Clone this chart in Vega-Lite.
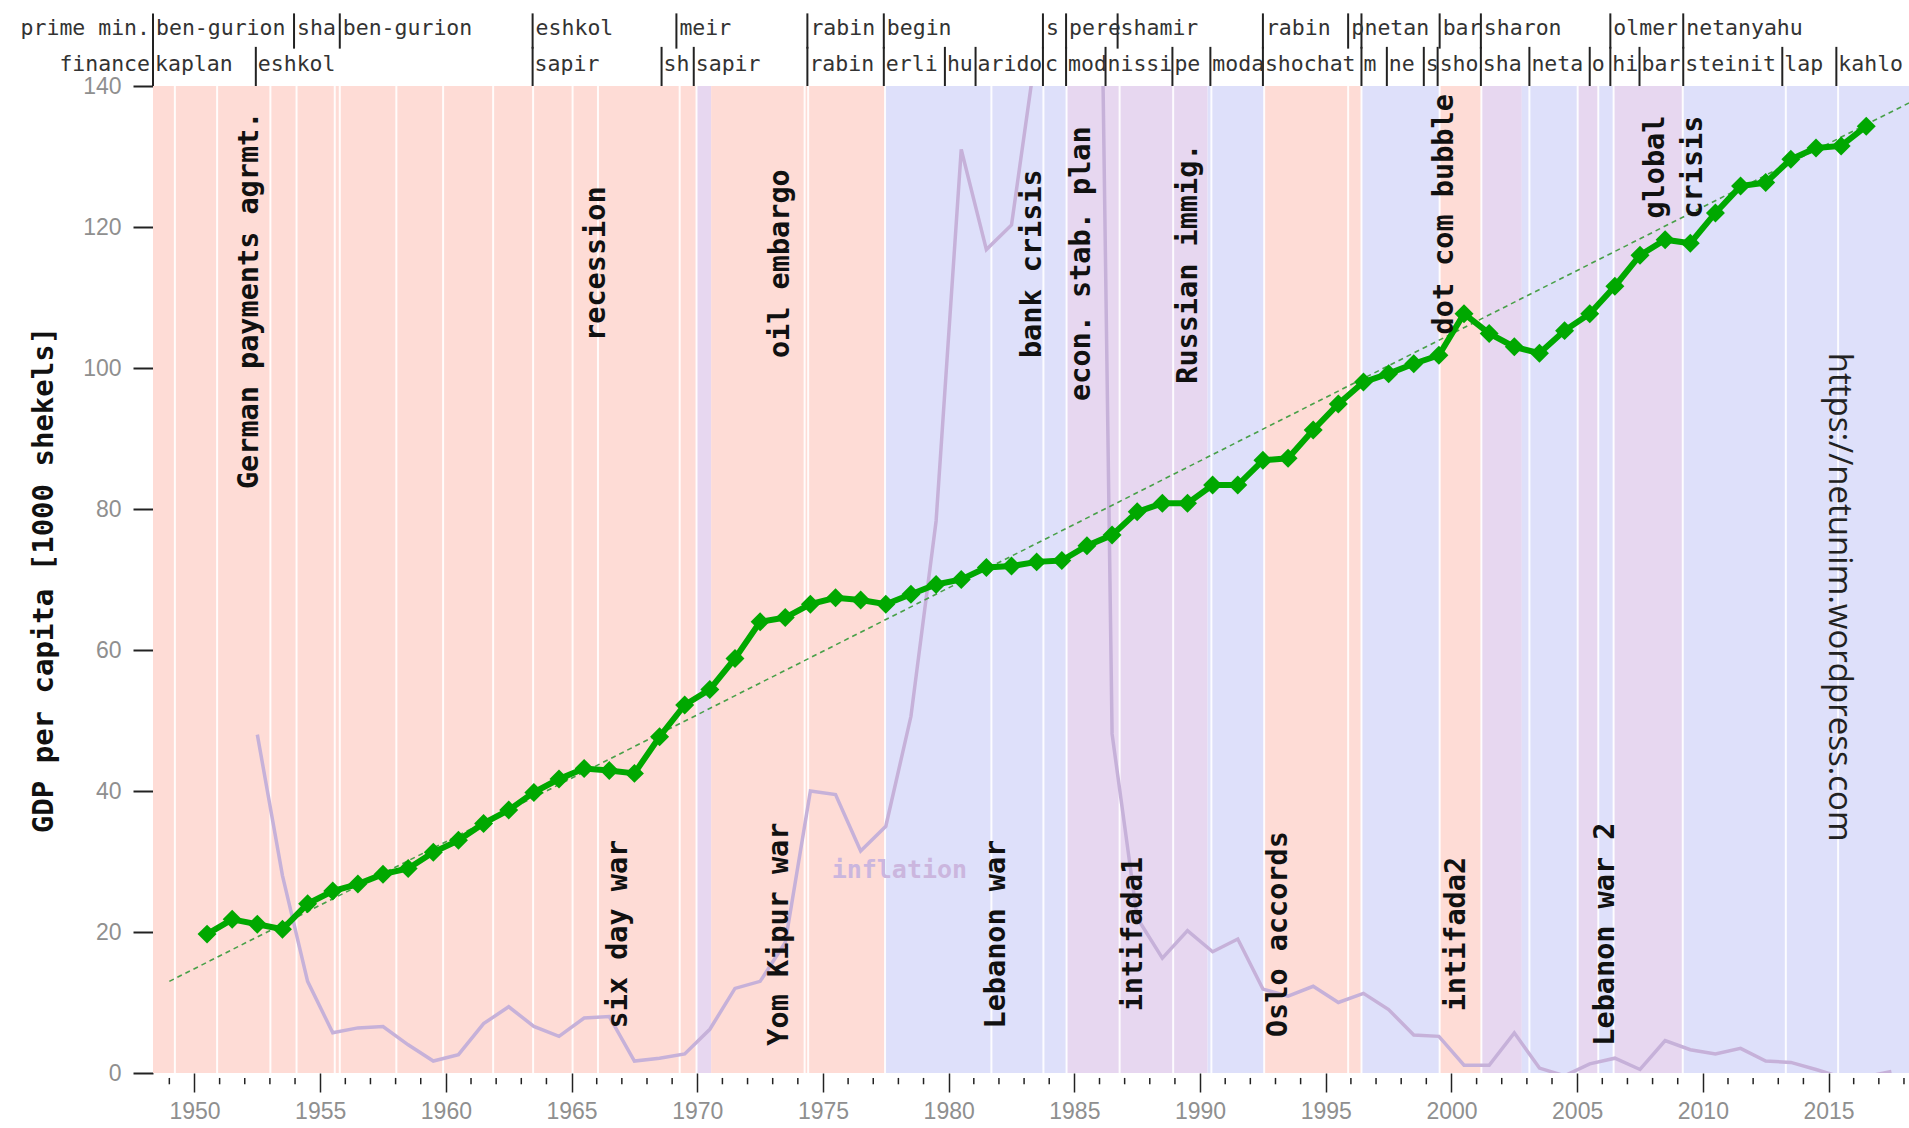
{
  "$schema": "https://vega.github.io/schema/vega-lite/v6.json",
  "width": 1756,
  "height": 987,
  "autosize": {"type": "none"},
  "padding": {"left": 153, "top": 86, "right": 0, "bottom": 55},
  "background": "white",
  "config": {"view": {"stroke": null}, "axis": {"grid": false, "domain": false}},
  "datasets": {
    "gdp": [
      {"t": 1950.5, "gdp": 19.7}, {"t": 1951.5, "gdp": 21.8}, {"t": 1952.5, "gdp": 21.1}, {"t": 1953.5, "gdp": 20.4},
      {"t": 1954.5, "gdp": 24.0}, {"t": 1955.5, "gdp": 25.8}, {"t": 1956.5, "gdp": 26.8}, {"t": 1957.5, "gdp": 28.2},
      {"t": 1958.5, "gdp": 29.0}, {"t": 1959.5, "gdp": 31.3}, {"t": 1960.5, "gdp": 33.0}, {"t": 1961.5, "gdp": 35.4},
      {"t": 1962.5, "gdp": 37.3}, {"t": 1963.5, "gdp": 39.8}, {"t": 1964.5, "gdp": 41.7}, {"t": 1965.5, "gdp": 43.2},
      {"t": 1966.5, "gdp": 42.9}, {"t": 1967.5, "gdp": 42.5}, {"t": 1968.5, "gdp": 47.7}, {"t": 1969.5, "gdp": 52.2},
      {"t": 1970.5, "gdp": 54.4}, {"t": 1971.5, "gdp": 58.8}, {"t": 1972.5, "gdp": 64.0}, {"t": 1973.5, "gdp": 64.6},
      {"t": 1974.5, "gdp": 66.5}, {"t": 1975.5, "gdp": 67.4}, {"t": 1976.5, "gdp": 67.1}, {"t": 1977.5, "gdp": 66.5},
      {"t": 1978.5, "gdp": 67.9}, {"t": 1979.5, "gdp": 69.3}, {"t": 1980.5, "gdp": 70.0}, {"t": 1981.5, "gdp": 71.7},
      {"t": 1982.5, "gdp": 71.9}, {"t": 1983.5, "gdp": 72.5}, {"t": 1984.5, "gdp": 72.7}, {"t": 1985.5, "gdp": 74.8},
      {"t": 1986.5, "gdp": 76.3}, {"t": 1987.5, "gdp": 79.6}, {"t": 1988.5, "gdp": 80.8}, {"t": 1989.5, "gdp": 80.8},
      {"t": 1990.5, "gdp": 83.4}, {"t": 1991.5, "gdp": 83.4}, {"t": 1992.5, "gdp": 86.9}, {"t": 1993.5, "gdp": 87.2},
      {"t": 1994.5, "gdp": 91.2}, {"t": 1995.5, "gdp": 94.9}, {"t": 1996.5, "gdp": 98.0}, {"t": 1997.5, "gdp": 99.2},
      {"t": 1998.5, "gdp": 100.6}, {"t": 1999.5, "gdp": 101.8}, {"t": 2000.5, "gdp": 107.7}, {"t": 2001.5, "gdp": 104.9},
      {"t": 2002.5, "gdp": 103.0}, {"t": 2003.5, "gdp": 102.1}, {"t": 2004.5, "gdp": 105.3}, {"t": 2005.5, "gdp": 107.7},
      {"t": 2006.5, "gdp": 111.6}, {"t": 2007.5, "gdp": 116.0}, {"t": 2008.5, "gdp": 118.2}, {"t": 2009.5, "gdp": 117.7},
      {"t": 2010.5, "gdp": 122.0}, {"t": 2011.5, "gdp": 125.8}, {"t": 2012.5, "gdp": 126.3}, {"t": 2013.5, "gdp": 129.6},
      {"t": 2014.5, "gdp": 131.2}, {"t": 2015.5, "gdp": 131.5}, {"t": 2016.5, "gdp": 134.3}
    ],
    "inflation": [
      {"t": 1952.5, "inf": 48}, {"t": 1953.5, "inf": 28}, {"t": 1954.5, "inf": 13}, {"t": 1955.5, "inf": 5.7},
      {"t": 1956.5, "inf": 6.4}, {"t": 1957.5, "inf": 6.6}, {"t": 1958.5, "inf": 4.0}, {"t": 1959.5, "inf": 1.7},
      {"t": 1960.5, "inf": 2.6}, {"t": 1961.5, "inf": 7.0}, {"t": 1962.5, "inf": 9.4}, {"t": 1963.5, "inf": 6.6},
      {"t": 1964.5, "inf": 5.2}, {"t": 1965.5, "inf": 7.8}, {"t": 1966.5, "inf": 8.0}, {"t": 1967.5, "inf": 1.7},
      {"t": 1968.5, "inf": 2.1}, {"t": 1969.5, "inf": 2.7}, {"t": 1970.5, "inf": 6.2}, {"t": 1971.5, "inf": 12.0},
      {"t": 1972.5, "inf": 13.0}, {"t": 1973.5, "inf": 18.5}, {"t": 1974.5, "inf": 40.0}, {"t": 1975.5, "inf": 39.5},
      {"t": 1976.5, "inf": 31.5}, {"t": 1977.5, "inf": 35.0}, {"t": 1978.5, "inf": 50.6}, {"t": 1979.5, "inf": 78.3},
      {"t": 1980.5, "inf": 131.0}, {"t": 1981.5, "inf": 116.8}, {"t": 1982.5, "inf": 120.3}, {"t": 1983.5, "inf": 145.6},
      {"t": 1984.5, "inf": 373.8}, {"t": 1985.5, "inf": 304.6}, {"t": 1986.5, "inf": 48.1}, {"t": 1987.5, "inf": 22.0},
      {"t": 1988.5, "inf": 16.3}, {"t": 1989.5, "inf": 20.2}, {"t": 1990.5, "inf": 17.2}, {"t": 1991.5, "inf": 19.0},
      {"t": 1992.5, "inf": 11.9}, {"t": 1993.5, "inf": 10.9}, {"t": 1994.5, "inf": 12.3}, {"t": 1995.5, "inf": 10.0},
      {"t": 1996.5, "inf": 11.3}, {"t": 1997.5, "inf": 9.0}, {"t": 1998.5, "inf": 5.4}, {"t": 1999.5, "inf": 5.2},
      {"t": 2000.5, "inf": 1.1}, {"t": 2001.5, "inf": 1.1}, {"t": 2002.5, "inf": 5.7}, {"t": 2003.5, "inf": 0.7},
      {"t": 2004.5, "inf": -0.4}, {"t": 2005.5, "inf": 1.3}, {"t": 2006.5, "inf": 2.1}, {"t": 2007.5, "inf": 0.5},
      {"t": 2008.5, "inf": 4.6}, {"t": 2009.5, "inf": 3.3}, {"t": 2010.5, "inf": 2.7}, {"t": 2011.5, "inf": 3.5},
      {"t": 2012.5, "inf": 1.7}, {"t": 2013.5, "inf": 1.5}, {"t": 2014.5, "inf": 0.5}, {"t": 2015.5, "inf": -0.6},
      {"t": 2016.5, "inf": -0.5}, {"t": 2017.5, "inf": 0.2}
    ],
    "trend": [{"t": 1949.0, "v": 13.0}, {"t": 2018.2, "v": 137.6}],
    "govts": [
      {"start": 1948.35, "end": 1969.97, "type": "labor"},
      {"start": 1969.97, "end": 1970.55, "type": "unity"},
      {"start": 1970.55, "end": 1977.47, "type": "labor"},
      {"start": 1977.47, "end": 1984.69, "type": "likud"},
      {"start": 1984.69, "end": 1990.3, "type": "unity"},
      {"start": 1990.3, "end": 1992.55, "type": "likud"},
      {"start": 1992.55, "end": 1996.42, "type": "labor"},
      {"start": 1996.42, "end": 1999.53, "type": "likud"},
      {"start": 1999.53, "end": 2001.19, "type": "labor"},
      {"start": 2001.19, "end": 2002.8, "type": "unity"},
      {"start": 2002.8, "end": 2005.02, "type": "likud"},
      {"start": 2005.02, "end": 2005.84, "type": "unity"},
      {"start": 2005.84, "end": 2006.45, "type": "likud"},
      {"start": 2006.45, "end": 2009.2, "type": "unity"},
      {"start": 2009.2, "end": 2018.2, "type": "likud"}
    ],
    "bounds": [
      {"t": 1949.22}, {"t": 1950.9}, {"t": 1953.02}, {"t": 1954.06}, {"t": 1955.58}, {"t": 1955.78}, {"t": 1958.03},
      {"t": 1959.89}, {"t": 1961.88}, {"t": 1963.47}, {"t": 1965.04}, {"t": 1966.05}, {"t": 1969.3}, {"t": 1969.97},
      {"t": 1974.27}, {"t": 1974.41}, {"t": 1977.47}, {"t": 1981.7}, {"t": 1983.77}, {"t": 1984.69}, {"t": 1986.8},
      {"t": 1988.93}, {"t": 1990.45}, {"t": 1992.55}, {"t": 1995.89}, {"t": 1996.42}, {"t": 1999.53}, {"t": 2001.19},
      {"t": 2003.1}, {"t": 2005.02}, {"t": 2005.84}, {"t": 2006.45}, {"t": 2009.2}, {"t": 2013.3}, {"t": 2015.38}
    ],
    "pm": [
      {"t": 1948.35, "name": "ben-gurion"}, {"t": 1953.96, "name": "sha"}, {"t": 1955.78, "name": "ben-gurion"},
      {"t": 1963.45, "name": "eshkol"}, {"t": 1969.17, "name": "meir"}, {"t": 1974.38, "name": "rabin"},
      {"t": 1977.42, "name": "begin"}, {"t": 1983.75, "name": "s"}, {"t": 1984.67, "name": "pere"},
      {"t": 1986.72, "name": "shamir"}, {"t": 1992.5, "name": "rabin"}, {"t": 1995.89, "name": "p"},
      {"t": 1996.42, "name": "netan"}, {"t": 1999.53, "name": "bar"}, {"t": 2001.17, "name": "sharon"},
      {"t": 2006.32, "name": "olmer"}, {"t": 2009.22, "name": "netanyahu"}
    ],
    "fin": [
      {"t": 1948.35, "name": "kaplan"}, {"t": 1952.44, "name": "eshkol"}, {"t": 1963.45, "name": "sapir"},
      {"t": 1968.58, "name": "sh"}, {"t": 1969.86, "name": "sapir"}, {"t": 1974.38, "name": "rabin"},
      {"t": 1977.42, "name": "erli"}, {"t": 1979.85, "name": "hu"}, {"t": 1981.07, "name": "arido"},
      {"t": 1983.75, "name": "c"}, {"t": 1984.67, "name": "mod"}, {"t": 1986.24, "name": "nissi"},
      {"t": 1988.9, "name": "pe"}, {"t": 1990.41, "name": "moda"}, {"t": 1992.5, "name": "shochat"},
      {"t": 1996.42, "name": "m"}, {"t": 1997.43, "name": "ne"}, {"t": 1998.9, "name": "s"},
      {"t": 1999.45, "name": "sho"}, {"t": 2001.17, "name": "sha"}, {"t": 2003.1, "name": "neta"},
      {"t": 2005.5, "name": "o"}, {"t": 2006.32, "name": "hi"}, {"t": 2007.48, "name": "bar"},
      {"t": 2009.22, "name": "steinit"}, {"t": 2013.16, "name": "lap"}, {"t": 2015.31, "name": "kahlo"}
    ],
    "minor": [
      {"yr": 1949}, {"yr": 1951}, {"yr": 1952}, {"yr": 1953}, {"yr": 1954}, {"yr": 1956}, {"yr": 1957}, {"yr": 1958},
      {"yr": 1959}, {"yr": 1961}, {"yr": 1962}, {"yr": 1963}, {"yr": 1964}, {"yr": 1966}, {"yr": 1967}, {"yr": 1968},
      {"yr": 1969}, {"yr": 1971}, {"yr": 1972}, {"yr": 1973}, {"yr": 1974}, {"yr": 1976}, {"yr": 1977}, {"yr": 1978},
      {"yr": 1979}, {"yr": 1981}, {"yr": 1982}, {"yr": 1983}, {"yr": 1984}, {"yr": 1986}, {"yr": 1987}, {"yr": 1988},
      {"yr": 1989}, {"yr": 1991}, {"yr": 1992}, {"yr": 1993}, {"yr": 1994}, {"yr": 1996}, {"yr": 1997}, {"yr": 1998},
      {"yr": 1999}, {"yr": 2001}, {"yr": 2002}, {"yr": 2003}, {"yr": 2004}, {"yr": 2006}, {"yr": 2007}, {"yr": 2008},
      {"yr": 2009}, {"yr": 2011}, {"yr": 2012}, {"yr": 2013}, {"yr": 2014}, {"yr": 2016}, {"yr": 2017}, {"yr": 2018}
    ]
  },
  "layer": [
    {
      "data": {"name": "govts"},
      "mark": {"type": "rect"},
      "encoding": {
        "x": {"field": "start", "type": "quantitative", "scale": {"domain": [1948.35, 2018.2], "nice": false, "zero": false}},
        "x2": {"field": "end"},
        "y": {"datum": 0, "type": "quantitative", "scale": {"domain": [0, 140], "nice": false, "zero": false}},
        "y2": {"datum": 140},
        "color": {"field": "type", "type": "nominal", "scale": {"domain": ["labor", "unity", "likud"], "range": ["#fedcd6", "#e7d7f0", "#dee0fa"]}, "legend": null}
      }
    },
    {
      "data": {"name": "bounds"},
      "mark": {"type": "rule", "color": "#ffffff", "strokeWidth": 2, "opacity": 0.9},
      "encoding": {
        "x": {"field": "t", "type": "quantitative", "scale": {"domain": [1948.35, 2018.2], "nice": false, "zero": false}},
        "y": {"datum": 0, "type": "quantitative", "scale": {"domain": [0, 140], "nice": false, "zero": false}},
        "y2": {"datum": 140}
      }
    },
    {
      "data": {"name": "inflation"},
      "mark": {"type": "line", "clip": true, "color": "#c6b1d9", "strokeWidth": 3.5},
      "encoding": {
        "x": {"field": "t", "type": "quantitative", "scale": {"domain": [1948.35, 2018.2], "nice": false, "zero": false}},
        "y": {"field": "inf", "type": "quantitative", "scale": {"domain": [0, 140], "nice": false, "zero": false}}
      }
    },
    {
      "data": {"name": "trend"},
      "mark": {"type": "line", "clip": true, "color": "#48a048", "strokeWidth": 1.6, "strokeDash": [5, 4]},
      "encoding": {
        "x": {"field": "t", "type": "quantitative", "scale": {"domain": [1948.35, 2018.2], "nice": false, "zero": false}},
        "y": {"field": "v", "type": "quantitative", "scale": {"domain": [0, 140], "nice": false, "zero": false}}
      }
    },
    {
      "data": {"name": "gdp"},
      "mark": {"type": "line", "color": "#00a800", "strokeWidth": 6, "point": {"shape": "diamond", "size": 360, "filled": true, "color": "#00a800", "opacity": 1}},
      "encoding": {
        "x": {"field": "t", "type": "quantitative", "scale": {"domain": [1948.35, 2018.2], "nice": false, "zero": false},
          "axis": {"values": [1950, 1955, 1960, 1965, 1970, 1975, 1980, 1985, 1990, 1995, 2000, 2005, 2010, 2015], "format": "d", "title": null,
            "tickSize": 19, "tickColor": "#222222", "tickWidth": 1.5, "labelColor": "#8f8f8f", "labelFont": "Liberation Sans Narrow, Liberation Sans, sans-serif", "labelFontSize": 23, "labelPadding": 8}},
        "y": {"field": "gdp", "type": "quantitative", "scale": {"domain": [0, 140], "nice": false, "zero": false},
          "axis": {"values": [0, 20, 40, 60, 80, 100, 120, 140], "title": "GDP per capita [1000 shekels]",
            "tickSize": 20, "tickColor": "#222222", "tickWidth": 2, "labelColor": "#8f8f8f", "labelFont": "Liberation Sans", "labelFontSize": 23, "labelPadding": 12,
            "titleFont": "DejaVu Sans Mono", "titleFontWeight": "bold", "titleFontSize": 29, "titleColor": "#111111", "titlePadding": 24}}
      }
    },
    {
      "data": {"values": [
        {"label": "recession", "t": 1965.99}, {"label": "oil embargo", "t": 1973.3}, {"label": "bank crisis", "t": 1983.3},
        {"label": "econ. stab. plan", "t": 1985.26}, {"label": "Russian immig.", "t": 1989.52}
      ]},
      "mark": {"type": "text", "angle": 270, "font": "DejaVu Sans Mono", "fontWeight": "bold", "fontSize": 28.5, "color": "#111111", "align": "center", "baseline": "middle"},
      "encoding": {
        "x": {"field": "t", "type": "quantitative", "scale": {"domain": [1948.35, 2018.2], "nice": false, "zero": false}},
        "y": {"datum": 114.8, "type": "quantitative", "scale": {"domain": [0, 140], "nice": false, "zero": false}},
        "text": {"field": "label"}
      }
    },
    {
      "data": {"values": [{"label": "German payments agrmt.", "t": 1952.18}]},
      "mark": {"type": "text", "angle": 270, "font": "DejaVu Sans Mono", "fontWeight": "bold", "fontSize": 28.5, "color": "#111111", "align": "center", "baseline": "middle"},
      "encoding": {
        "x": {"field": "t", "type": "quantitative", "scale": {"domain": [1948.35, 2018.2], "nice": false, "zero": false}},
        "y": {"datum": 109.6, "type": "quantitative", "scale": {"domain": [0, 140], "nice": false, "zero": false}},
        "text": {"field": "label"}
      }
    },
    {
      "data": {"values": [{"label": "dot com bubble", "t": 1999.72}]},
      "mark": {"type": "text", "angle": 270, "font": "DejaVu Sans Mono", "fontWeight": "bold", "fontSize": 28.5, "color": "#111111", "align": "center", "baseline": "middle"},
      "encoding": {
        "x": {"field": "t", "type": "quantitative", "scale": {"domain": [1948.35, 2018.2], "nice": false, "zero": false}},
        "y": {"datum": 121.8, "type": "quantitative", "scale": {"domain": [0, 140], "nice": false, "zero": false}},
        "text": {"field": "label"}
      }
    },
    {
      "data": {"values": [{"label": "global\ncrisis", "t": 2008.1}]},
      "mark": {"type": "text", "angle": 270, "font": "DejaVu Sans Mono", "fontWeight": "bold", "fontSize": 28.5, "color": "#111111", "align": "center", "baseline": "middle", "lineBreak": "\n", "lineHeight": 38},
      "encoding": {
        "x": {"field": "t", "type": "quantitative", "scale": {"domain": [1948.35, 2018.2], "nice": false, "zero": false}},
        "y": {"datum": 128.5, "type": "quantitative", "scale": {"domain": [0, 140], "nice": false, "zero": false}},
        "text": {"field": "label"}
      }
    },
    {
      "data": {"values": [
        {"label": "six day war", "t": 1966.86}, {"label": "Yom Kipur war", "t": 1973.25}, {"label": "Lebanon war", "t": 1981.87},
        {"label": "intifada1", "t": 1987.34}, {"label": "Oslo accords", "t": 1993.1}, {"label": "intifada2", "t": 2000.17},
        {"label": "Lebanon war 2", "t": 2006.09}
      ]},
      "mark": {"type": "text", "angle": 270, "font": "DejaVu Sans Mono", "fontWeight": "bold", "fontSize": 28.5, "color": "#111111", "align": "center", "baseline": "middle"},
      "encoding": {
        "x": {"field": "t", "type": "quantitative", "scale": {"domain": [1948.35, 2018.2], "nice": false, "zero": false}},
        "y": {"datum": 19.7, "type": "quantitative", "scale": {"domain": [0, 140], "nice": false, "zero": false}},
        "text": {"field": "label"}
      }
    },
    {
      "data": {"values": [{"label": "inflation", "t": 1978.04}]},
      "mark": {"type": "text", "font": "DejaVu Sans Mono", "fontWeight": "bold", "fontSize": 25, "color": "#cbb6de", "align": "center", "baseline": "middle"},
      "encoding": {
        "x": {"field": "t", "type": "quantitative", "scale": {"domain": [1948.35, 2018.2], "nice": false, "zero": false}},
        "y": {"datum": 28.8, "type": "quantitative", "scale": {"domain": [0, 140], "nice": false, "zero": false}},
        "text": {"field": "label"}
      }
    },
    {
      "data": {"name": "pm"},
      "mark": {"type": "rule", "color": "#222222", "strokeWidth": 2},
      "encoding": {
        "x": {"field": "t", "type": "quantitative", "scale": {"domain": [1948.35, 2018.2], "nice": false, "zero": false}},
        "y": {"datum": 150.3, "type": "quantitative", "scale": {"domain": [0, 140], "nice": false, "zero": false}},
        "y2": {"datum": 145.3}
      }
    },
    {
      "data": {"name": "fin"},
      "mark": {"type": "rule", "color": "#222222", "strokeWidth": 2},
      "encoding": {
        "x": {"field": "t", "type": "quantitative", "scale": {"domain": [1948.35, 2018.2], "nice": false, "zero": false}},
        "y": {"datum": 145.55, "type": "quantitative", "scale": {"domain": [0, 140], "nice": false, "zero": false}},
        "y2": {"datum": 140}
      }
    },
    {
      "data": {"name": "pm"},
      "mark": {"type": "text", "font": "DejaVu Sans Mono", "fontSize": 21.5, "color": "#333333", "align": "left", "baseline": "middle", "dx": 3},
      "encoding": {
        "x": {"field": "t", "type": "quantitative", "scale": {"domain": [1948.35, 2018.2], "nice": false, "zero": false}},
        "y": {"datum": 148.15, "type": "quantitative", "scale": {"domain": [0, 140], "nice": false, "zero": false}},
        "text": {"field": "name"}
      }
    },
    {
      "data": {"name": "fin"},
      "mark": {"type": "text", "font": "DejaVu Sans Mono", "fontSize": 21.5, "color": "#333333", "align": "left", "baseline": "middle", "dx": 2},
      "encoding": {
        "x": {"field": "t", "type": "quantitative", "scale": {"domain": [1948.35, 2018.2], "nice": false, "zero": false}},
        "y": {"datum": 142.94, "type": "quantitative", "scale": {"domain": [0, 140], "nice": false, "zero": false}},
        "text": {"field": "name"}
      }
    },
    {
      "data": {"values": [{"label": "prime min."}]},
      "mark": {"type": "text", "font": "DejaVu Sans Mono", "fontSize": 21.5, "color": "#333333", "align": "right", "baseline": "middle", "dx": -3},
      "encoding": {
        "x": {"datum": 1948.35, "type": "quantitative", "scale": {"domain": [1948.35, 2018.2], "nice": false, "zero": false}},
        "y": {"datum": 148.15, "type": "quantitative", "scale": {"domain": [0, 140], "nice": false, "zero": false}},
        "text": {"field": "label"}
      }
    },
    {
      "data": {"values": [{"label": "finance"}]},
      "mark": {"type": "text", "font": "DejaVu Sans Mono", "fontSize": 21.5, "color": "#333333", "align": "right", "baseline": "middle", "dx": -3},
      "encoding": {
        "x": {"datum": 1948.35, "type": "quantitative", "scale": {"domain": [1948.35, 2018.2], "nice": false, "zero": false}},
        "y": {"datum": 142.94, "type": "quantitative", "scale": {"domain": [0, 140], "nice": false, "zero": false}},
        "text": {"field": "label"}
      }
    },
    {
      "data": {"name": "minor"},
      "mark": {"type": "rule", "color": "#222222", "strokeWidth": 1.5},
      "encoding": {
        "x": {"field": "yr", "type": "quantitative", "scale": {"domain": [1948.35, 2018.2], "nice": false, "zero": false}},
        "y": {"datum": -0.7, "type": "quantitative", "scale": {"domain": [0, 140], "nice": false, "zero": false}},
        "y2": {"datum": -1.6}
      }
    },
    {
      "data": {"values": [{"label": "https://netunim.wordpress.com"}]},
      "mark": {"type": "text", "angle": 90, "font": "Open Sans", "fontSize": 33, "color": "#222222", "align": "center", "baseline": "middle"},
      "encoding": {
        "x": {"datum": 2015.43, "type": "quantitative", "scale": {"domain": [1948.35, 2018.2], "nice": false, "zero": false}},
        "y": {"datum": 67.5, "type": "quantitative", "scale": {"domain": [0, 140], "nice": false, "zero": false}},
        "text": {"field": "label"}
      }
    }
  ]
}
